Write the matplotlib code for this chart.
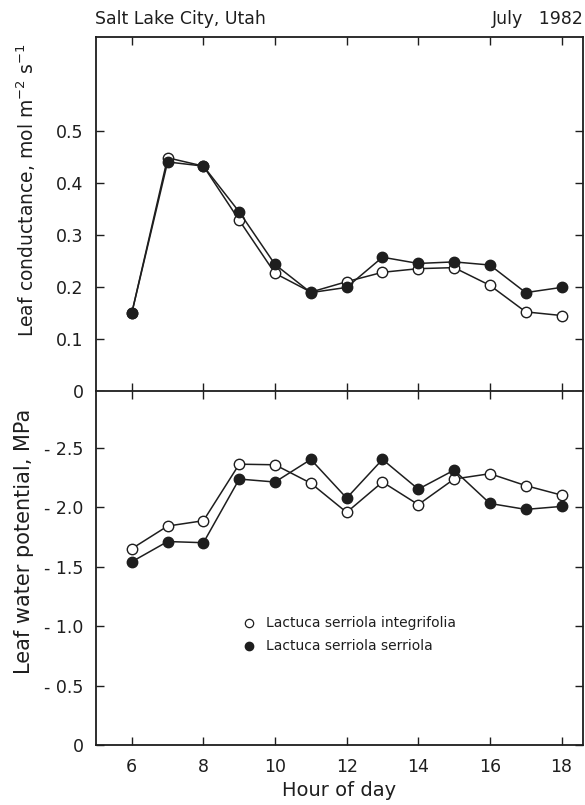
import matplotlib
matplotlib.use("Agg")
import matplotlib.pyplot as plt

# hour of day
hours = [6, 7, 8, 9, 10, 11, 12, 13, 14, 15, 16, 17, 18]

# leaf conductance, mol m-2 s-1
cond_integrifolia = [0.15, 0.448, 0.432, 0.328, 0.226, 0.19, 0.210, 0.228, 0.235, 0.237, 0.203, 0.152, 0.145]
cond_serriola = [0.15, 0.440, 0.432, 0.344, 0.243, 0.189, 0.199, 0.257, 0.245, 0.248, 0.242, 0.189, 0.199]

# leaf water potential, MPa
psi_integrifolia = [-1.65, -1.84, -1.885, -2.36, -2.355, -2.20, -1.955, -2.21, -2.02, -2.235, -2.28, -2.18, -2.10]
psi_serriola = [-1.54, -1.71, -1.70, -2.235, -2.21, -2.40, -2.075, -2.40, -2.15, -2.31, -2.03, -1.98, -2.005]

x_ticks = [6, 8, 10, 12, 14, 16, 18]
cond_ticks = [0, 0.1, 0.2, 0.3, 0.4, 0.5]
cond_labels = ["0", "0.1", "0.2", "0.3", "0.4", "0.5"]
psi_ticks = [0, -0.5, -1.0, -1.5, -2.0, -2.5]
psi_labels = ["0", "- 0.5", "- 1.0", "- 1.5", "- 2.0", "- 2.5"]

INK = "#1e1e1e"
plt.rcParams["font.family"] = ["DejaVu Sans"]

W, H = 585, 805
fig = plt.figure(figsize=(W / 100, H / 100), dpi=100)


def px_axes(x0, y0, x1, y1):
    return fig.add_axes([x0 / W, 1 - y1 / H, (x1 - x0) / W, (y1 - y0) / H])


def style(ax):
    for sp in ax.spines.values():
        sp.set_color(INK)
        sp.set_linewidth(1.3)
    ax.tick_params(direction="in", length=6, width=1.0, colors=INK,
                   top=True, right=True, labelsize=12.5, pad=9)
    ax.set_xlim(5, 18.6)
    ax.set_xticks(x_ticks)


def draw(ax, xs, open_vals, filled_vals):
    ax.plot(xs, open_vals, "-o", color=INK, lw=1.1, ms=7.5,
            markerfacecolor="white", markeredgecolor=INK, markeredgewidth=1.0,
            zorder=3)
    ax.plot(xs, filled_vals, "-o", color=INK, lw=1.1, ms=7.5,
            markerfacecolor=INK, markeredgecolor=INK, zorder=4)


ax1 = px_axes(96, 37, 583, 391)
style(ax1)
draw(ax1, hours, cond_integrifolia, cond_serriola)
ax1.set_ylim(0, 0.68)
ax1.set_yticks(cond_ticks)
ax1.set_yticklabels(cond_labels)
ax1.set_xticklabels([])
ax1.spines["bottom"].set_visible(False)

ax2 = px_axes(96, 391, 583, 745)
style(ax2)
draw(ax2, hours, psi_integrifolia, psi_serriola)
ax2.set_ylim(0, -2.975)
ax2.set_yticks(psi_ticks)
ax2.set_yticklabels(psi_labels)
ax2.set_xticklabels([str(h) for h in x_ticks])

ax2.set_xlabel("Hour of day", fontsize=14, color=INK, labelpad=4)

fig.text(26 / W, 1 - 190 / H, "Leaf conductance, mol m$^{-2}$ s$^{-1}$",
         rotation=90, ha="center", va="center", fontsize=13.5, color=INK)
fig.text(24 / W, 1 - 541 / H, "Leaf water potential, MPa",
         rotation=90, ha="center", va="center", fontsize=15, color=INK)

fig.text(95 / W, 1 - 19 / H, "Salt Lake City, Utah", ha="left", va="center",
         fontsize=12.5, color=INK)
fig.text(584 / W, 1 - 19 / H, "July   1982", ha="right", va="center",
         fontsize=12.5, color=INK)

# legend
ax2.plot([0.315], [0.345], "o", transform=ax2.transAxes, ms=6,
         markerfacecolor="white", markeredgecolor=INK, markeredgewidth=0.9)
ax2.plot([0.315], [0.280], "o", transform=ax2.transAxes, ms=6,
         markerfacecolor=INK, markeredgecolor=INK)
ax2.text(0.35, 0.345, "Lactuca serriola integrifolia", transform=ax2.transAxes,
         ha="left", va="center", fontsize=10, color=INK)
ax2.text(0.35, 0.280, "Lactuca serriola serriola", transform=ax2.transAxes,
         ha="left", va="center", fontsize=10, color=INK)

fig.savefig("out.png", dpi=100)
